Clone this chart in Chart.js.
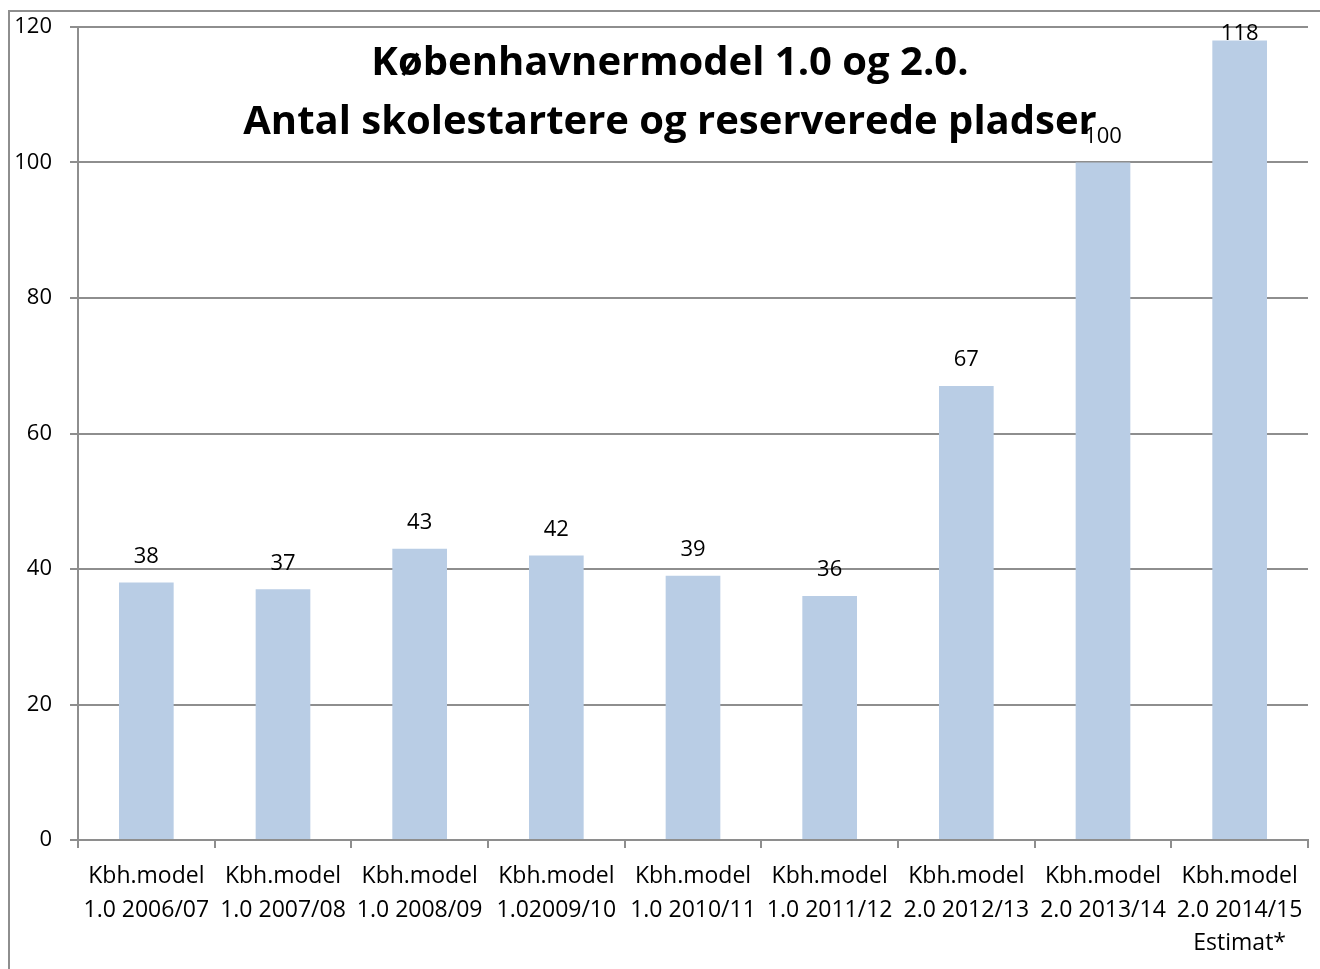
<!DOCTYPE html>
<html>
<head>
<meta charset="utf-8">
<script src="https://cdn.jsdelivr.net/npm/chart.js@4.4.1/dist/chart.umd.min.js"></script>
<style>
  html, body { margin: 0; padding: 0; background: #fff; overflow: hidden; }
  canvas { display: block; }
</style>
</head>
<body>
<canvas id="chart" width="1320" height="969"></canvas>
<script>
// data
const categories = [
  ['Kbh.model', '1.0 2006/07'],
  ['Kbh.model', '1.0 2007/08'],
  ['Kbh.model', '1.0 2008/09'],
  ['Kbh.model', '1.02009/10'],
  ['Kbh.model', '1.0 2010/11'],
  ['Kbh.model', '1.0 2011/12'],
  ['Kbh.model', '2.0 2012/13'],
  ['Kbh.model', '2.0 2013/14'],
  ['Kbh.model', '2.0 2014/15', 'Estimat*']
];
const values = [38, 37, 43, 42, 39, 36, 67, 100, 118];
const yTicks = [0, 20, 40, 60, 80, 100, 120];
const titleLines = ['Københavnermodel 1.0 og 2.0.', 'Antal skolestartere og reserverede pladser'];

const FONT = '"Open Sans", Lato, sans-serif';
const GRID = '#8e8e8e';

// outer frame + title + value labels
const extras = {
  id: 'extras',
  beforeDraw(chart) {
    const c = chart.ctx;
    c.save();
    c.strokeStyle = GRID;
    c.lineWidth = 2;
    c.beginPath();
    c.moveTo(9, 969);
    c.lineTo(9, 11);
    c.lineTo(1320, 11);
    c.stroke();
    c.restore();
  },
  afterDraw(chart) {
    const c = chart.ctx;
    const area = chart.chartArea;
    c.save();
    c.fillStyle = '#000';
    c.textAlign = 'center';
    c.textBaseline = 'middle';
    c.font = 'bold 40px ' + FONT;
    c.fillText(titleLines[0], 670, 64);
    c.fillText(titleLines[1], 670, 123);

    c.font = '22px ' + FONT;
    chart.getDatasetMeta(0).data.forEach((bar, i) => {
      const y = Math.max(bar.y - 26, area.top + 7);
      c.fillText(String(values[i]), bar.x, y);
    });
    c.restore();
  }
};

new Chart(document.getElementById('chart').getContext('2d'), {
  type: 'bar',
  data: {
    labels: categories,
    datasets: [{
      data: values,
      backgroundColor: '#b9cde5',
      borderWidth: 0,
      categoryPercentage: 1,
      barPercentage: 0.4
    }]
  },
  options: {
    responsive: false,
    animation: false,
    devicePixelRatio: 1,
    layout: { padding: { top: 27, right: 12, bottom: 0, left: 0 } },
    plugins: { legend: { display: false }, tooltip: { enabled: false }, title: { display: false } },
    scales: {
      y: {
        min: 0,
        max: 120,
        afterBuildTicks(scale) { scale.ticks = yTicks.map(v => ({ value: v })); },
        afterFit(scale) { scale.width = 78; scale.paddingTop = 0; scale.paddingBottom = 0; },
        ticks: { color: '#000', font: { family: FONT, size: 22 }, padding: 18 },
        grid: { color: GRID, lineWidth: 2, tickLength: 8 },
        border: { color: GRID, width: 2 }
      },
      x: {
        afterFit(scale) { scale.height = 129; scale.paddingLeft = 0; scale.paddingRight = 0; },
        ticks: { color: '#000', font: { family: FONT, size: 23, lineHeight: 1.45 }, padding: 12, maxRotation: 0, autoSkip: false },
        grid: { color: GRID, lineWidth: 2, tickLength: 8, drawOnChartArea: false, offset: true },
        border: { color: GRID, width: 2 }
      }
    }
  },
  plugins: [extras]
});
</script>
</body>
</html>
